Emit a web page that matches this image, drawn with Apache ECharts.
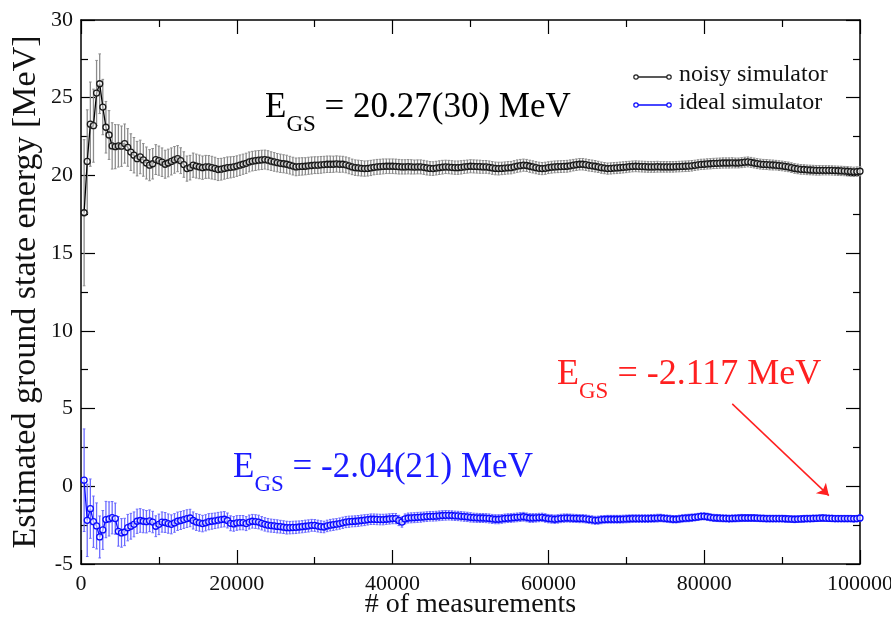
<!DOCTYPE html>
<html>
<head>
<meta charset="utf-8">
<script src="https://cdn.jsdelivr.net/npm/echarts@6/dist/echarts.min.js"></script>
<style>
html,body{margin:0;padding:0;background:#fff;}
#chart{width:891px;height:617px;}
</style>
</head>
<body>
<div id="chart"></div>
<script>
// ---- data ----
const MEAS_STEP = 400; // measurements between successive estimates
const xTicks = [0, 20000, 40000, 60000, 80000, 100000];
const yTicks = [-5, 0, 5, 10, 15, 20, 25, 30];

const noisyE = [
 17.6, 20.9, 23.3, 23.2, 25.3, 25.9, 24.4, 23.1, 22.6, 21.9,
 21.85, 21.9, 21.88, 22.05, 21.8, 21.5, 21.3, 21.08, 21.19, 21.0,
 20.8, 20.66, 20.75, 21.02, 20.95, 20.85, 20.72, 20.8, 20.9, 21.0,
 21.08, 20.95, 20.7, 20.44, 20.5, 20.66, 20.6, 20.55, 20.5, 20.55,
 20.55, 20.5, 20.45, 20.38, 20.4, 20.45, 20.5, 20.52, 20.55, 20.6,
 20.66, 20.72, 20.78, 20.87, 20.92, 20.95, 20.98, 21.0, 21.02, 20.98,
 20.92, 20.87, 20.82, 20.78, 20.75, 20.72, 20.66, 20.6, 20.55, 20.57,
 20.58, 20.59, 20.62, 20.64, 20.66, 20.66, 20.68, 20.7, 20.72, 20.72,
 20.72, 20.74, 20.72, 20.72, 20.68, 20.62, 20.55, 20.5, 20.48, 20.46,
 20.44, 20.45, 20.48, 20.52, 20.55, 20.56, 20.58, 20.59, 20.59, 20.59,
 20.58, 20.56, 20.55, 20.55, 20.56, 20.55, 20.54, 20.55, 20.55, 20.52,
 20.48, 20.45, 20.44, 20.47, 20.5, 20.53, 20.55, 20.54, 20.52, 20.5,
 20.5, 20.52, 20.55, 20.57, 20.59, 20.58, 20.57, 20.56, 20.55, 20.55,
 20.52, 20.48, 20.45, 20.44, 20.45, 20.47, 20.49, 20.5, 20.55, 20.6,
 20.63, 20.66, 20.64, 20.59, 20.55, 20.5, 20.46, 20.44, 20.46, 20.5,
 20.53, 20.55, 20.56, 20.57, 20.58, 20.59, 20.62, 20.66, 20.69, 20.72,
 20.72, 20.69, 20.65, 20.62, 20.59, 20.55, 20.5, 20.47, 20.44, 20.45,
 20.47, 20.48, 20.5, 20.52, 20.54, 20.56, 20.58, 20.59, 20.58, 20.57,
 20.56, 20.55, 20.55, 20.55, 20.56, 20.55, 20.55, 20.55, 20.55, 20.55,
 20.56, 20.57, 20.58, 20.59, 20.6, 20.62, 20.65, 20.68, 20.71, 20.72,
 20.74, 20.75, 20.77, 20.78, 20.79, 20.8, 20.8, 20.8, 20.81, 20.8,
 20.8, 20.82, 20.85, 20.87, 20.84, 20.8, 20.76, 20.73, 20.71, 20.7,
 20.68, 20.67, 20.66, 20.63, 20.61, 20.58, 20.55, 20.5, 20.45, 20.42,
 20.39, 20.38, 20.36, 20.35, 20.34, 20.33, 20.33, 20.33, 20.33, 20.33,
 20.32, 20.31, 20.3, 20.29, 20.28, 20.27, 20.25, 20.23, 20.25, 20.27
];
const noisyErr = [
 4.70, 3.32, 2.71, 2.35, 2.10, 1.92, 1.78, 1.66, 1.57, 1.49,
 1.42, 1.36, 1.30, 1.26, 1.21, 1.18, 1.14, 1.11, 1.08, 1.05,
 1.03, 1.00, 0.98, 0.96, 0.94, 0.92, 0.90, 0.89, 0.87, 0.86,
 0.84, 0.83, 0.82, 0.81, 0.79, 0.78, 0.77, 0.76, 0.75, 0.74,
 0.73, 0.73, 0.72, 0.71, 0.70, 0.69, 0.69, 0.68, 0.67, 0.66,
 0.66, 0.65, 0.65, 0.64, 0.63, 0.63, 0.62, 0.62, 0.61, 0.61,
 0.60, 0.60, 0.59, 0.59, 0.58, 0.58, 0.57, 0.57, 0.57, 0.56,
 0.56, 0.55, 0.55, 0.55, 0.54, 0.54, 0.54, 0.53, 0.53, 0.53,
 0.52, 0.52, 0.52, 0.51, 0.51, 0.51, 0.50, 0.50, 0.50, 0.50,
 0.49, 0.49, 0.49, 0.48, 0.48, 0.48, 0.48, 0.47, 0.47, 0.47,
 0.47, 0.47, 0.46, 0.46, 0.46, 0.46, 0.45, 0.45, 0.45, 0.45,
 0.45, 0.44, 0.44, 0.44, 0.44, 0.44, 0.43, 0.43, 0.43, 0.43,
 0.43, 0.43, 0.42, 0.42, 0.42, 0.42, 0.42, 0.42, 0.41, 0.41,
 0.41, 0.41, 0.41, 0.41, 0.40, 0.40, 0.40, 0.40, 0.40, 0.40,
 0.40, 0.39, 0.39, 0.39, 0.39, 0.39, 0.39, 0.39, 0.39, 0.38,
 0.38, 0.38, 0.38, 0.38, 0.38, 0.38, 0.38, 0.37, 0.37, 0.37,
 0.37, 0.37, 0.37, 0.37, 0.37, 0.36, 0.36, 0.36, 0.36, 0.36,
 0.36, 0.36, 0.36, 0.36, 0.36, 0.35, 0.35, 0.35, 0.35, 0.35,
 0.35, 0.35, 0.35, 0.35, 0.35, 0.34, 0.34, 0.34, 0.34, 0.34,
 0.34, 0.34, 0.34, 0.34, 0.34, 0.34, 0.33, 0.33, 0.33, 0.33,
 0.33, 0.33, 0.33, 0.33, 0.33, 0.33, 0.33, 0.33, 0.33, 0.32,
 0.32, 0.32, 0.32, 0.32, 0.32, 0.32, 0.32, 0.32, 0.32, 0.32,
 0.32, 0.32, 0.31, 0.31, 0.31, 0.31, 0.31, 0.31, 0.31, 0.31,
 0.31, 0.31, 0.31, 0.31, 0.31, 0.31, 0.31, 0.30, 0.30, 0.30,
 0.30, 0.30, 0.30, 0.30, 0.30, 0.30, 0.30, 0.30, 0.30, 0.30
];
const idealE = [
 0.39, -2.19, -1.44, -2.28, -2.55, -3.26, -2.81, -2.14, -2.1, -2.02,
 -2.08, -2.9, -3.0, -2.94, -2.66, -2.57, -2.45, -2.25, -2.2, -2.25,
 -2.28, -2.22, -2.3, -2.57, -2.45, -2.3, -2.33, -2.4, -2.45, -2.36,
 -2.25, -2.2, -2.14, -2.08, -2.04, -2.2, -2.3, -2.35, -2.4, -2.35,
 -2.28, -2.25, -2.22, -2.18, -2.14, -2.12, -2.2, -2.38, -2.42, -2.36,
 -2.34, -2.34, -2.4, -2.3, -2.25, -2.27, -2.3, -2.38, -2.45, -2.5,
 -2.53, -2.55, -2.58, -2.6, -2.63, -2.66, -2.66, -2.65, -2.64, -2.62,
 -2.6, -2.57, -2.55, -2.51, -2.52, -2.56, -2.6, -2.62, -2.55, -2.5,
 -2.47, -2.44, -2.4, -2.35, -2.3, -2.28, -2.26, -2.25, -2.23, -2.2,
 -2.18, -2.15, -2.12, -2.12, -2.13, -2.14, -2.14, -2.12, -2.1, -2.08,
 -2.08, -2.2, -2.3, -2.1, -2.04, -2.03, -2.02, -2.0, -1.99, -1.97,
 -1.95, -1.93, -1.93, -1.92, -1.9, -1.88, -1.87, -1.87, -1.88, -1.9,
 -1.91, -1.93, -1.95, -1.97, -2.0, -2.02, -2.03, -2.04, -2.04, -2.05,
 -2.07, -2.1, -2.12, -2.12, -2.1, -2.07, -2.05, -2.04, -2.02, -2.0,
 -1.98, -1.96, -2.0, -2.04, -2.04, -2.03, -2.01, -2.0, -2.04, -2.08,
 -2.1, -2.12, -2.1, -2.07, -2.05, -2.04, -2.05, -2.06, -2.07, -2.08,
 -2.08, -2.1, -2.13, -2.16, -2.19, -2.18, -2.15, -2.13, -2.12, -2.12,
 -2.12, -2.12, -2.12, -2.11, -2.1, -2.09, -2.08, -2.08, -2.08, -2.08,
 -2.08, -2.08, -2.07, -2.06, -2.05, -2.04, -2.06, -2.08, -2.1, -2.12,
 -2.12, -2.1, -2.07, -2.05, -2.04, -2.02, -2.0, -1.97, -1.94, -1.93,
 -1.96, -2.0, -2.03, -2.04, -2.05, -2.06, -2.07, -2.08, -2.07, -2.06,
 -2.05, -2.04, -2.04, -2.04, -2.04, -2.04, -2.05, -2.06, -2.07, -2.08,
 -2.08, -2.08, -2.08, -2.08, -2.08, -2.09, -2.1, -2.11, -2.12, -2.11,
 -2.1, -2.09, -2.08, -2.08, -2.07, -2.06, -2.05, -2.04, -2.05, -2.06,
 -2.07, -2.08, -2.08, -2.08, -2.08, -2.08, -2.08, -2.09, -2.08, -2.04
];
const idealErr = [
 3.30, 2.33, 1.91, 1.65, 1.48, 1.35, 1.25, 1.17, 1.10, 1.04,
 1.00, 0.95, 0.92, 0.88, 0.85, 0.83, 0.80, 0.78, 0.76, 0.74,
 0.72, 0.70, 0.69, 0.67, 0.66, 0.65, 0.64, 0.62, 0.61, 0.60,
 0.59, 0.58, 0.57, 0.57, 0.56, 0.55, 0.54, 0.54, 0.53, 0.52,
 0.52, 0.51, 0.50, 0.50, 0.49, 0.49, 0.48, 0.48, 0.47, 0.47,
 0.46, 0.46, 0.45, 0.45, 0.44, 0.44, 0.44, 0.43, 0.43, 0.43,
 0.42, 0.42, 0.42, 0.41, 0.41, 0.41, 0.40, 0.40, 0.40, 0.39,
 0.39, 0.39, 0.39, 0.38, 0.38, 0.38, 0.38, 0.37, 0.37, 0.37,
 0.37, 0.36, 0.36, 0.36, 0.36, 0.36, 0.35, 0.35, 0.35, 0.35,
 0.35, 0.34, 0.34, 0.34, 0.34, 0.34, 0.34, 0.33, 0.33, 0.33,
 0.33, 0.33, 0.33, 0.32, 0.32, 0.32, 0.32, 0.32, 0.32, 0.31,
 0.31, 0.31, 0.31, 0.31, 0.31, 0.31, 0.31, 0.30, 0.30, 0.30,
 0.30, 0.30, 0.30, 0.30, 0.30, 0.29, 0.29, 0.29, 0.29, 0.29,
 0.29, 0.29, 0.29, 0.29, 0.28, 0.28, 0.28, 0.28, 0.28, 0.28,
 0.28, 0.28, 0.28, 0.28, 0.28, 0.27, 0.27, 0.27, 0.27, 0.27,
 0.27, 0.27, 0.27, 0.27, 0.27, 0.26, 0.26, 0.26, 0.26, 0.26,
 0.26, 0.26, 0.26, 0.26, 0.26, 0.26, 0.26, 0.25, 0.25, 0.25,
 0.25, 0.25, 0.25, 0.25, 0.25, 0.25, 0.25, 0.25, 0.25, 0.25,
 0.25, 0.25, 0.25, 0.25, 0.25, 0.24, 0.24, 0.24, 0.24, 0.24,
 0.24, 0.24, 0.24, 0.24, 0.24, 0.24, 0.23, 0.23, 0.23, 0.23,
 0.23, 0.23, 0.23, 0.23, 0.23, 0.23, 0.23, 0.23, 0.23, 0.23,
 0.23, 0.23, 0.22, 0.22, 0.22, 0.22, 0.22, 0.22, 0.22, 0.22,
 0.22, 0.22, 0.22, 0.22, 0.22, 0.22, 0.22, 0.22, 0.22, 0.22,
 0.22, 0.22, 0.22, 0.22, 0.22, 0.21, 0.21, 0.21, 0.21, 0.21,
 0.21, 0.21, 0.21, 0.21, 0.21, 0.21, 0.21, 0.21, 0.21, 0.21
];
const seriesNames = ['noisy simulator', 'ideal simulator'];
const annoNoisy = ['E', 'GS', ' = 20.27(30) MeV'];
const annoIdeal = ['E', 'GS', ' = -2.04(21) MeV'];
const annoExact = ['E', 'GS', ' = -2.117 MeV'];
const arrowFrom = [83600, 5.3];
const arrowTo = [96000, -0.6];

// ---- build ----
const measurements = noisyE.map((_, i) => (i + 1) * MEAS_STEP);
const noisyPts = measurements.map((x, i) => [x, noisyE[i], noisyErr[i]]);
const idealPts = measurements.map((x, i) => [x, idealE[i], idealErr[i]]);

const FONT = "'Liberation Serif','DejaVu Serif',serif";
const BLACK = '#000000';
const BLUE = '#0a0aff';

function errRender(color) {
  return function (params, api) {
    const x = api.value(0), y = api.value(1), e = api.value(2);
    const top = api.coord([x, y + e]);
    const bot = api.coord([x, y - e]);
    const w = 1.3;
    return {
      type: 'group',
      children: [
        { type: 'line', shape: { x1: top[0], y1: top[1], x2: bot[0], y2: bot[1] }, style: { stroke: color, lineWidth: 1.3 } },
        { type: 'line', shape: { x1: top[0] - w, y1: top[1], x2: top[0] + w, y2: top[1] }, style: { stroke: color, lineWidth: 1 } },
        { type: 'line', shape: { x1: bot[0] - w, y1: bot[1], x2: bot[0] + w, y2: bot[1] }, style: { stroke: color, lineWidth: 1 } }
      ]
    };
  };
}

const axisCommon = {
  axisLine: { show: true, onZero: false, lineStyle: { color: '#000', width: 1.5 } },
  axisTick: { show: true, inside: true, length: 14, lineStyle: { color: '#000', width: 1.2 } },
  minorTick: { show: true, splitNumber: 2, length: 7, lineStyle: { color: '#000', width: 1.2 } },
  splitLine: { show: false },
  minorSplitLine: { show: false }
};
const labelStyle = { color: '#111', fontFamily: FONT, fontSize: 22, formatter: v => String(v) };

function annoText(parts, color, left, top, size) {
  return {
    type: 'text', left: left, top: top, z: 100,
    style: {
      text: '{m|' + parts[0] + '}{s|' + parts[1] + '}{m|' + parts[2] + '}',
      rich: {
        m: { fontFamily: FONT, fontSize: size, fill: color, lineHeight: 40, verticalAlign: 'top' },
        s: { fontFamily: FONT, fontSize: 23, fill: color, lineHeight: 24, verticalAlign: 'top', padding: [23, 0, 0, 0] }
      }
    }
  };
}

const chart = echarts.init(document.getElementById('chart'), null, { renderer: 'canvas' });
chart.setOption({
  animation: false,
  backgroundColor: '#fff',
  grid: { left: 81, right: 31, top: 20, bottom: 53, containLabel: false, outerBoundsMode: 'none' },
  xAxis: [
    Object.assign({}, axisCommon, {
      type: 'value', min: xTicks[0], max: xTicks[xTicks.length - 1], interval: xTicks[1] - xTicks[0],
      position: 'bottom',
      name: '# of measurements', nameLocation: 'middle', nameGap: 27, nameMoveOverlap: false,
      nameTextStyle: { color: '#111', fontFamily: FONT, fontSize: 28 },
      axisLabel: Object.assign({ margin: 9 }, labelStyle)
    }),
    Object.assign({}, axisCommon, {
      type: 'value', min: xTicks[0], max: xTicks[xTicks.length - 1], interval: xTicks[1] - xTicks[0],
      position: 'top', axisLabel: { show: false }
    })
  ],
  yAxis: [
    Object.assign({}, axisCommon, {
      type: 'value', min: yTicks[0], max: yTicks[yTicks.length - 1], interval: yTicks[1] - yTicks[0],
      position: 'left',
      name: 'Estimated ground state energy [MeV]', nameLocation: 'middle', nameGap: 38, nameMoveOverlap: false,
      nameTextStyle: { color: '#111', fontFamily: FONT, fontSize: 34 },
      axisLabel: Object.assign({ margin: 8 }, labelStyle)
    }),
    Object.assign({}, axisCommon, {
      type: 'value', min: yTicks[0], max: yTicks[yTicks.length - 1], interval: yTicks[1] - yTicks[0],
      position: 'right', axisLabel: { show: false }
    })
  ],
  series: [
    {
      type: 'custom', name: seriesNames[0] + ' err', xAxisIndex: 0, yAxisIndex: 0,
      renderItem: errRender('#8c8c8c'), data: noisyPts, encode: { x: 0, y: 1 }, z: 2, silent: true
    },
    {
      type: 'custom', name: seriesNames[1] + ' err', xAxisIndex: 0, yAxisIndex: 0,
      renderItem: errRender('#6b6bff'), data: idealPts, encode: { x: 0, y: 1 }, z: 2, silent: true
    },
    {
      type: 'line', name: seriesNames[0], xAxisIndex: 0, yAxisIndex: 0,
      data: noisyPts.map(p => [p[0], p[1]]),
      symbol: 'circle', symbolSize: 6, showAllSymbol: true,
      itemStyle: { color: 'rgba(255,255,255,0.6)', borderColor: '#1a1a1a', borderWidth: 1.3 },
      lineStyle: { color: BLACK, width: 1.3 }, z: 3, silent: true
    },
    {
      type: 'line', name: seriesNames[1], xAxisIndex: 0, yAxisIndex: 0,
      data: idealPts.map(p => [p[0], p[1]]),
      symbol: 'circle', symbolSize: 6, showAllSymbol: true,
      itemStyle: { color: 'rgba(255,255,255,0.6)', borderColor: BLUE, borderWidth: 1.3 },
      lineStyle: { color: BLUE, width: 1.3 }, z: 3, silent: true,
      markLine: {
        silent: true, symbol: ['none', 'arrow'], symbolSize: 11,
        label: { show: false },
        lineStyle: { color: '#ff2020', width: 1.5, type: 'solid' },
        data: [[{ coord: arrowFrom }, { coord: arrowTo }]]
      }
    }
  ],
  graphic: [
    annoText(annoNoisy, '#000', 265, 90, 35),
    annoText(annoIdeal, '#1a1aff', 233, 450, 35),
    annoText(annoExact, '#ff2020', 557, 357, 36),
    // legend
    { type: 'line', shape: { x1: 636, y1: 77, x2: 669, y2: 77 }, style: { stroke: '#222', lineWidth: 1.3 }, z: 100 },
    { type: 'circle', shape: { cx: 636, cy: 77, r: 2.2 }, style: { fill: '#fff', stroke: '#222', lineWidth: 1.2 }, z: 101 },
    { type: 'circle', shape: { cx: 669, cy: 77, r: 2.2 }, style: { fill: '#fff', stroke: '#222', lineWidth: 1.2 }, z: 101 },
    { type: 'text', left: 679, top: 63, z: 100, style: { text: seriesNames[0], fontFamily: FONT, fontSize: 24, fill: '#111' } },
    { type: 'line', shape: { x1: 636, y1: 105, x2: 669, y2: 105 }, style: { stroke: BLUE, lineWidth: 1.3 }, z: 100 },
    { type: 'circle', shape: { cx: 636, cy: 105, r: 2.2 }, style: { fill: '#fff', stroke: BLUE, lineWidth: 1.2 }, z: 101 },
    { type: 'circle', shape: { cx: 669, cy: 105, r: 2.2 }, style: { fill: '#fff', stroke: BLUE, lineWidth: 1.2 }, z: 101 },
    { type: 'text', left: 679, top: 91, z: 100, style: { text: seriesNames[1], fontFamily: FONT, fontSize: 24, fill: '#111' } }
  ]
});
</script>
</body>
</html>
